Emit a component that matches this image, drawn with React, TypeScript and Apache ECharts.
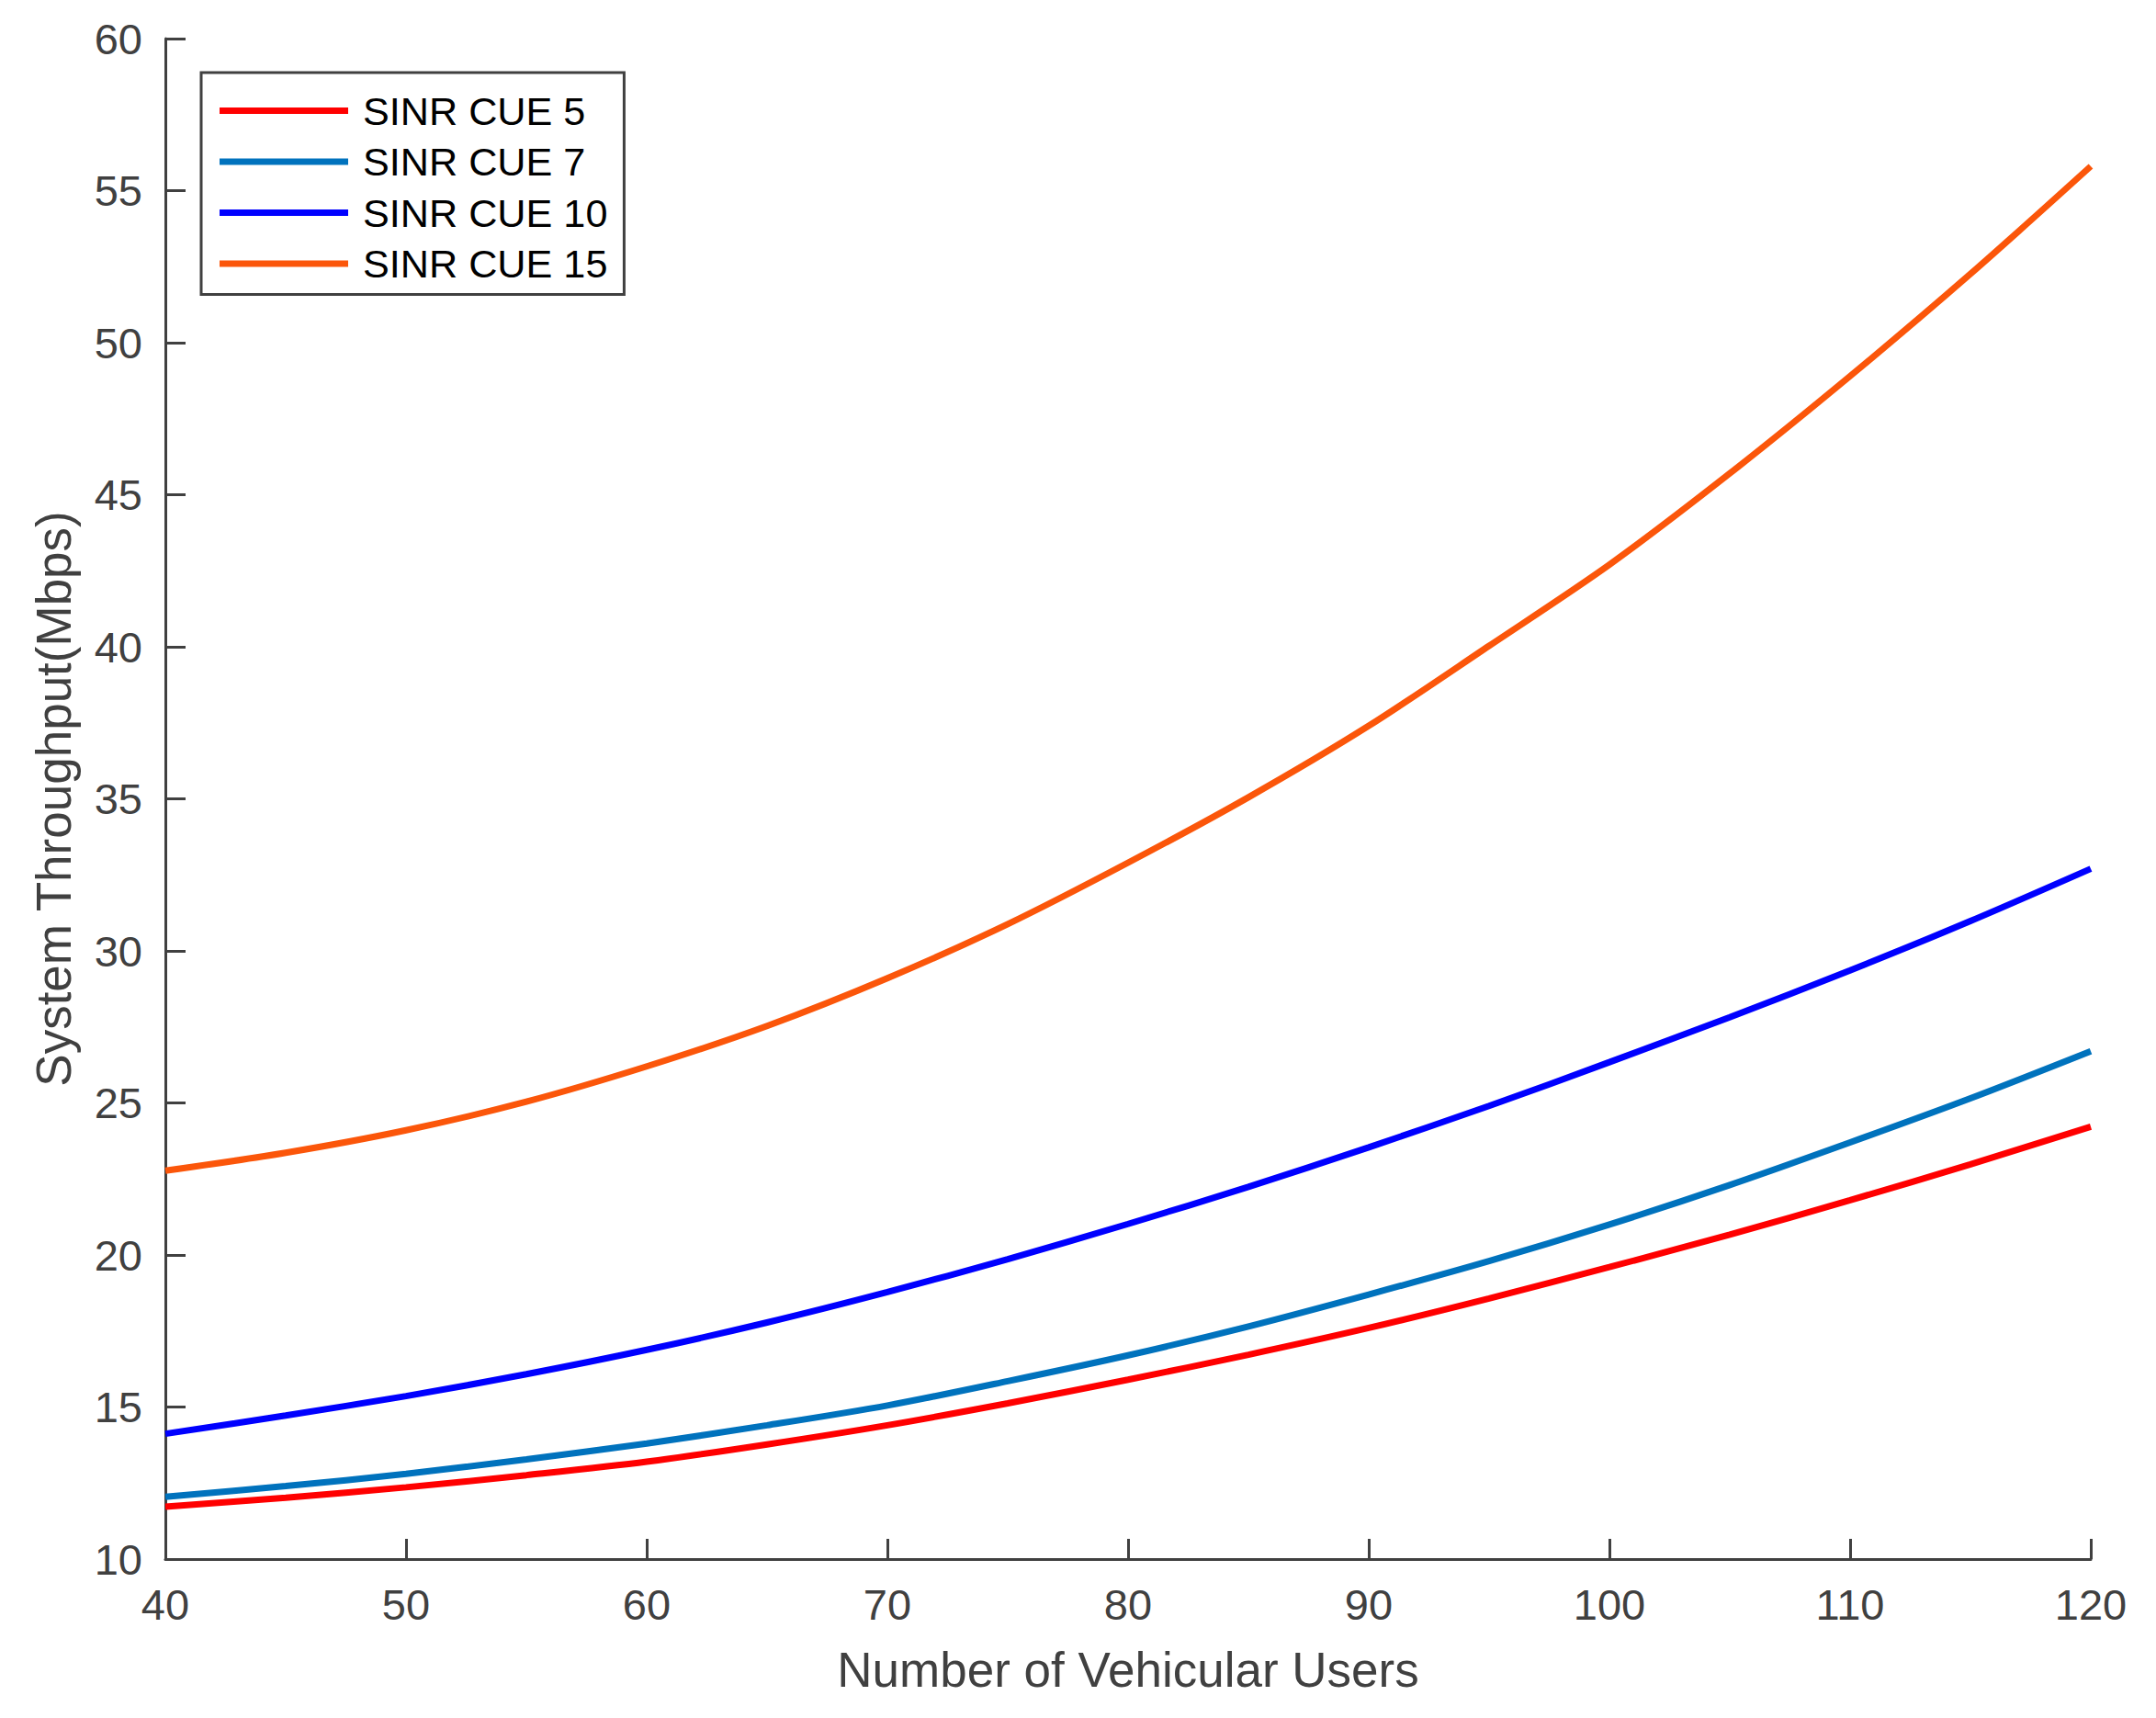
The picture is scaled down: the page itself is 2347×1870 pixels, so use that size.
import React, { useEffect, useRef } from "react";
import * as echarts from "echarts";

const xValues = [40, 45, 50, 55, 60, 65, 70, 75, 80, 85, 90, 95, 100, 105, 110, 115, 120];
const sinr5 = [11.72, 12.02, 12.36, 12.76, 13.2, 13.77, 14.4, 15.12, 15.9, 16.72, 17.6, 18.57, 19.6, 20.67, 21.8, 22.98, 24.22];
const sinr7 = [12.05, 12.4, 12.8, 13.28, 13.8, 14.4, 15.05, 15.85, 16.7, 17.65, 18.7, 19.8, 21.0, 22.3, 23.7, 25.15, 26.7];
const sinr10 = [14.12, 14.72, 15.36, 16.08, 16.88, 17.78, 18.78, 19.86, 21.02, 22.24, 23.54, 24.9, 26.34, 27.82, 29.36, 30.98, 32.7];
const sinr15 = [22.77, 23.36, 24.1, 25.04, 26.2, 27.53, 29.1, 30.88, 32.9, 35.05, 37.4, 40.03, 42.7, 45.7, 48.9, 52.26, 55.8];
const seriesNames = ["SINR CUE 5", "SINR CUE 7", "SINR CUE 10", "SINR CUE 15"];
const seriesColors = ["#FF0000", "#0072BD", "#0000FF", "#FB560A"];

const FONT = "'Liberation Sans', Arial, sans-serif";
const AXIS_COLOR = "#404040";

export default function App() {
  const ref = useRef<HTMLDivElement>(null);
  useEffect(() => {
    if (!ref.current) return;
    const chart = echarts.init(ref.current, null, { renderer: "svg" });
    const all = [sinr5, sinr7, sinr10, sinr15];
    chart.setOption({
      animation: false,
      backgroundColor: "#ffffff",
      textStyle: { fontFamily: FONT },
      grid: { left: 180, right: 71, top: 42, bottom: 173, containLabel: false },
      legend: {
        left: 219,
        top: 79,
        orient: "vertical",
        icon: "rect",
        itemWidth: 140,
        itemHeight: 7,
        itemGap: 12.5,
        padding: [20, 18, 12, 20],
        borderColor: AXIS_COLOR,
        borderWidth: 3,
        backgroundColor: "#ffffff",
        textStyle: {
          fontFamily: FONT,
          fontSize: 43.2,
          color: "#000000",
          lineHeight: 42,
          padding: [0, 0, 0, 11],
        },
        data: seriesNames,
      },
      xAxis: {
        type: "value",
        min: 40,
        max: 120,
        interval: 10,
        name: "Number of Vehicular Users",
        nameLocation: "middle",
        nameGap: 94,
        nameTextStyle: { fontFamily: FONT, fontSize: 53, color: AXIS_COLOR },
        axisLine: { show: true, lineStyle: { color: AXIS_COLOR, width: 3 } },
        axisTick: { show: true, inside: true, length: 22, lineStyle: { color: AXIS_COLOR, width: 3 } },
        axisLabel: { fontFamily: FONT, fontSize: 47, color: AXIS_COLOR, margin: 26 },
        splitLine: { show: false },
      },
      yAxis: {
        type: "value",
        min: 10,
        max: 60,
        interval: 5,
        name: "System Throughput(Mbps)",
        nameLocation: "middle",
        nameGap: 95,
        nameTextStyle: { fontFamily: FONT, fontSize: 53, color: AXIS_COLOR },
        axisLine: { show: true, lineStyle: { color: AXIS_COLOR, width: 3 } },
        axisTick: { show: true, inside: true, length: 22, lineStyle: { color: AXIS_COLOR, width: 3 } },
        axisLabel: { fontFamily: FONT, fontSize: 47, color: AXIS_COLOR, margin: 25 },
        splitLine: { show: false },
      },
      series: all.map((vals, i) => ({
        name: seriesNames[i],
        type: "line",
        smooth: 0.3,
        symbol: "none",
        color: seriesColors[i],
        lineStyle: { color: seriesColors[i], width: 7 },
        data: xValues.map((x, j) => [x, vals[j]]),
      })),
    });
    return () => chart.dispose();
  }, []);
  return (
    <div
      ref={ref}
      style={{ position: "absolute", left: 0, top: 0, width: 2347, height: 1870 }}
    />
  );
}
